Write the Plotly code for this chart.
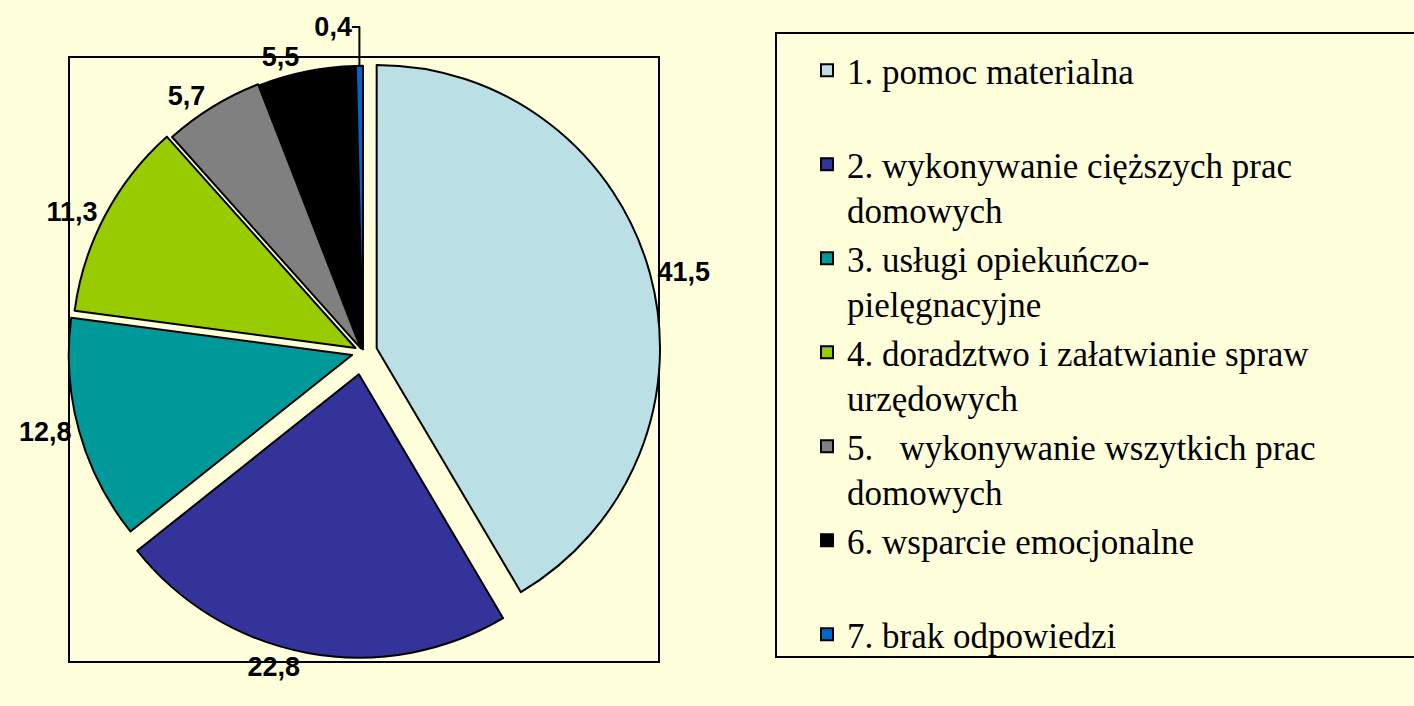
import plotly.graph_objects as go

categories = [
    "1. pomoc materialna<br> ",
    "2. wykonywanie cięższych prac<br>domowych",
    "3. usługi opiekuńczo-<br>pielęgnacyjne",
    "4. doradztwo i załatwianie spraw<br>urzędowych",
    "5.   wykonywanie wszytkich prac<br>domowych",
    "6. wsparcie emocjonalne<br> ",
    "7. brak odpowiedzi",
]
values = [41.5, 22.8, 12.8, 11.3, 5.7, 5.5, 0.4]
colors = ["#BADFE4", "#333399", "#009999", "#99CC00", "#808080", "#000000", "#0066CC"]
pulls = [0.05, 0.08, 0.04, 0.03, 0.015, 0.01, 0.01]

W, H = 1414, 706
bg = "#FFFFDC"

cx, cy, half = 363, 352, 306
fig = go.Figure(go.Pie(
    labels=categories,
    values=values,
    sort=False,
    direction="clockwise",
    rotation=0,
    pull=pulls,
    marker=dict(colors=colors, line=dict(color="black", width=2)),
    texttemplate="%{value:.1f}",
    textposition="outside",
    outsidetextfont=dict(family="Liberation Sans, Arial", size=27, color="black", weight="bold"),
    domain=dict(x=[(cx - half) / W, (cx + half) / W], y=[1 - (cy + half) / H, 1 - (cy - half) / H]),
    hoverinfo="label+value",
    automargin=False,
))

# plot-area frame
fig.add_shape(type="rect", xref="paper", yref="paper",
              x0=69 / W, x1=659 / W, y0=1 - 662 / H, y1=1 - 57 / H,
              line=dict(color="black", width=2), layer="below")
# legend frame (extends past right edge as in the original)
fig.add_shape(type="rect", xref="paper", yref="paper",
              x0=776 / W, x1=1420 / W, y0=1 - 657 / H, y1=1 - 33 / H,
              line=dict(color="black", width=2), layer="below")

fig.update_layout(
    width=W, height=H,
    margin=dict(l=0, r=0, t=0, b=0, pad=0, autoexpand=False),
    paper_bgcolor=bg, plot_bgcolor=bg,
    separators=", ",
    showlegend=True,
    legend=dict(
        x=807 / W, y=1 - 41 / H, xanchor="left", yanchor="top",
        bgcolor="rgba(0,0,0,0)", borderwidth=0,
        font=dict(family="Liberation Serif, Times New Roman", size=35, color="black"),
        traceorder="normal",
        valign="top",
    ),
)

fig.write_html("out.html", config={"displayModeBar": False},
               post_script="document.body.style.margin='0';document.body.style.background='%s';" % bg)
